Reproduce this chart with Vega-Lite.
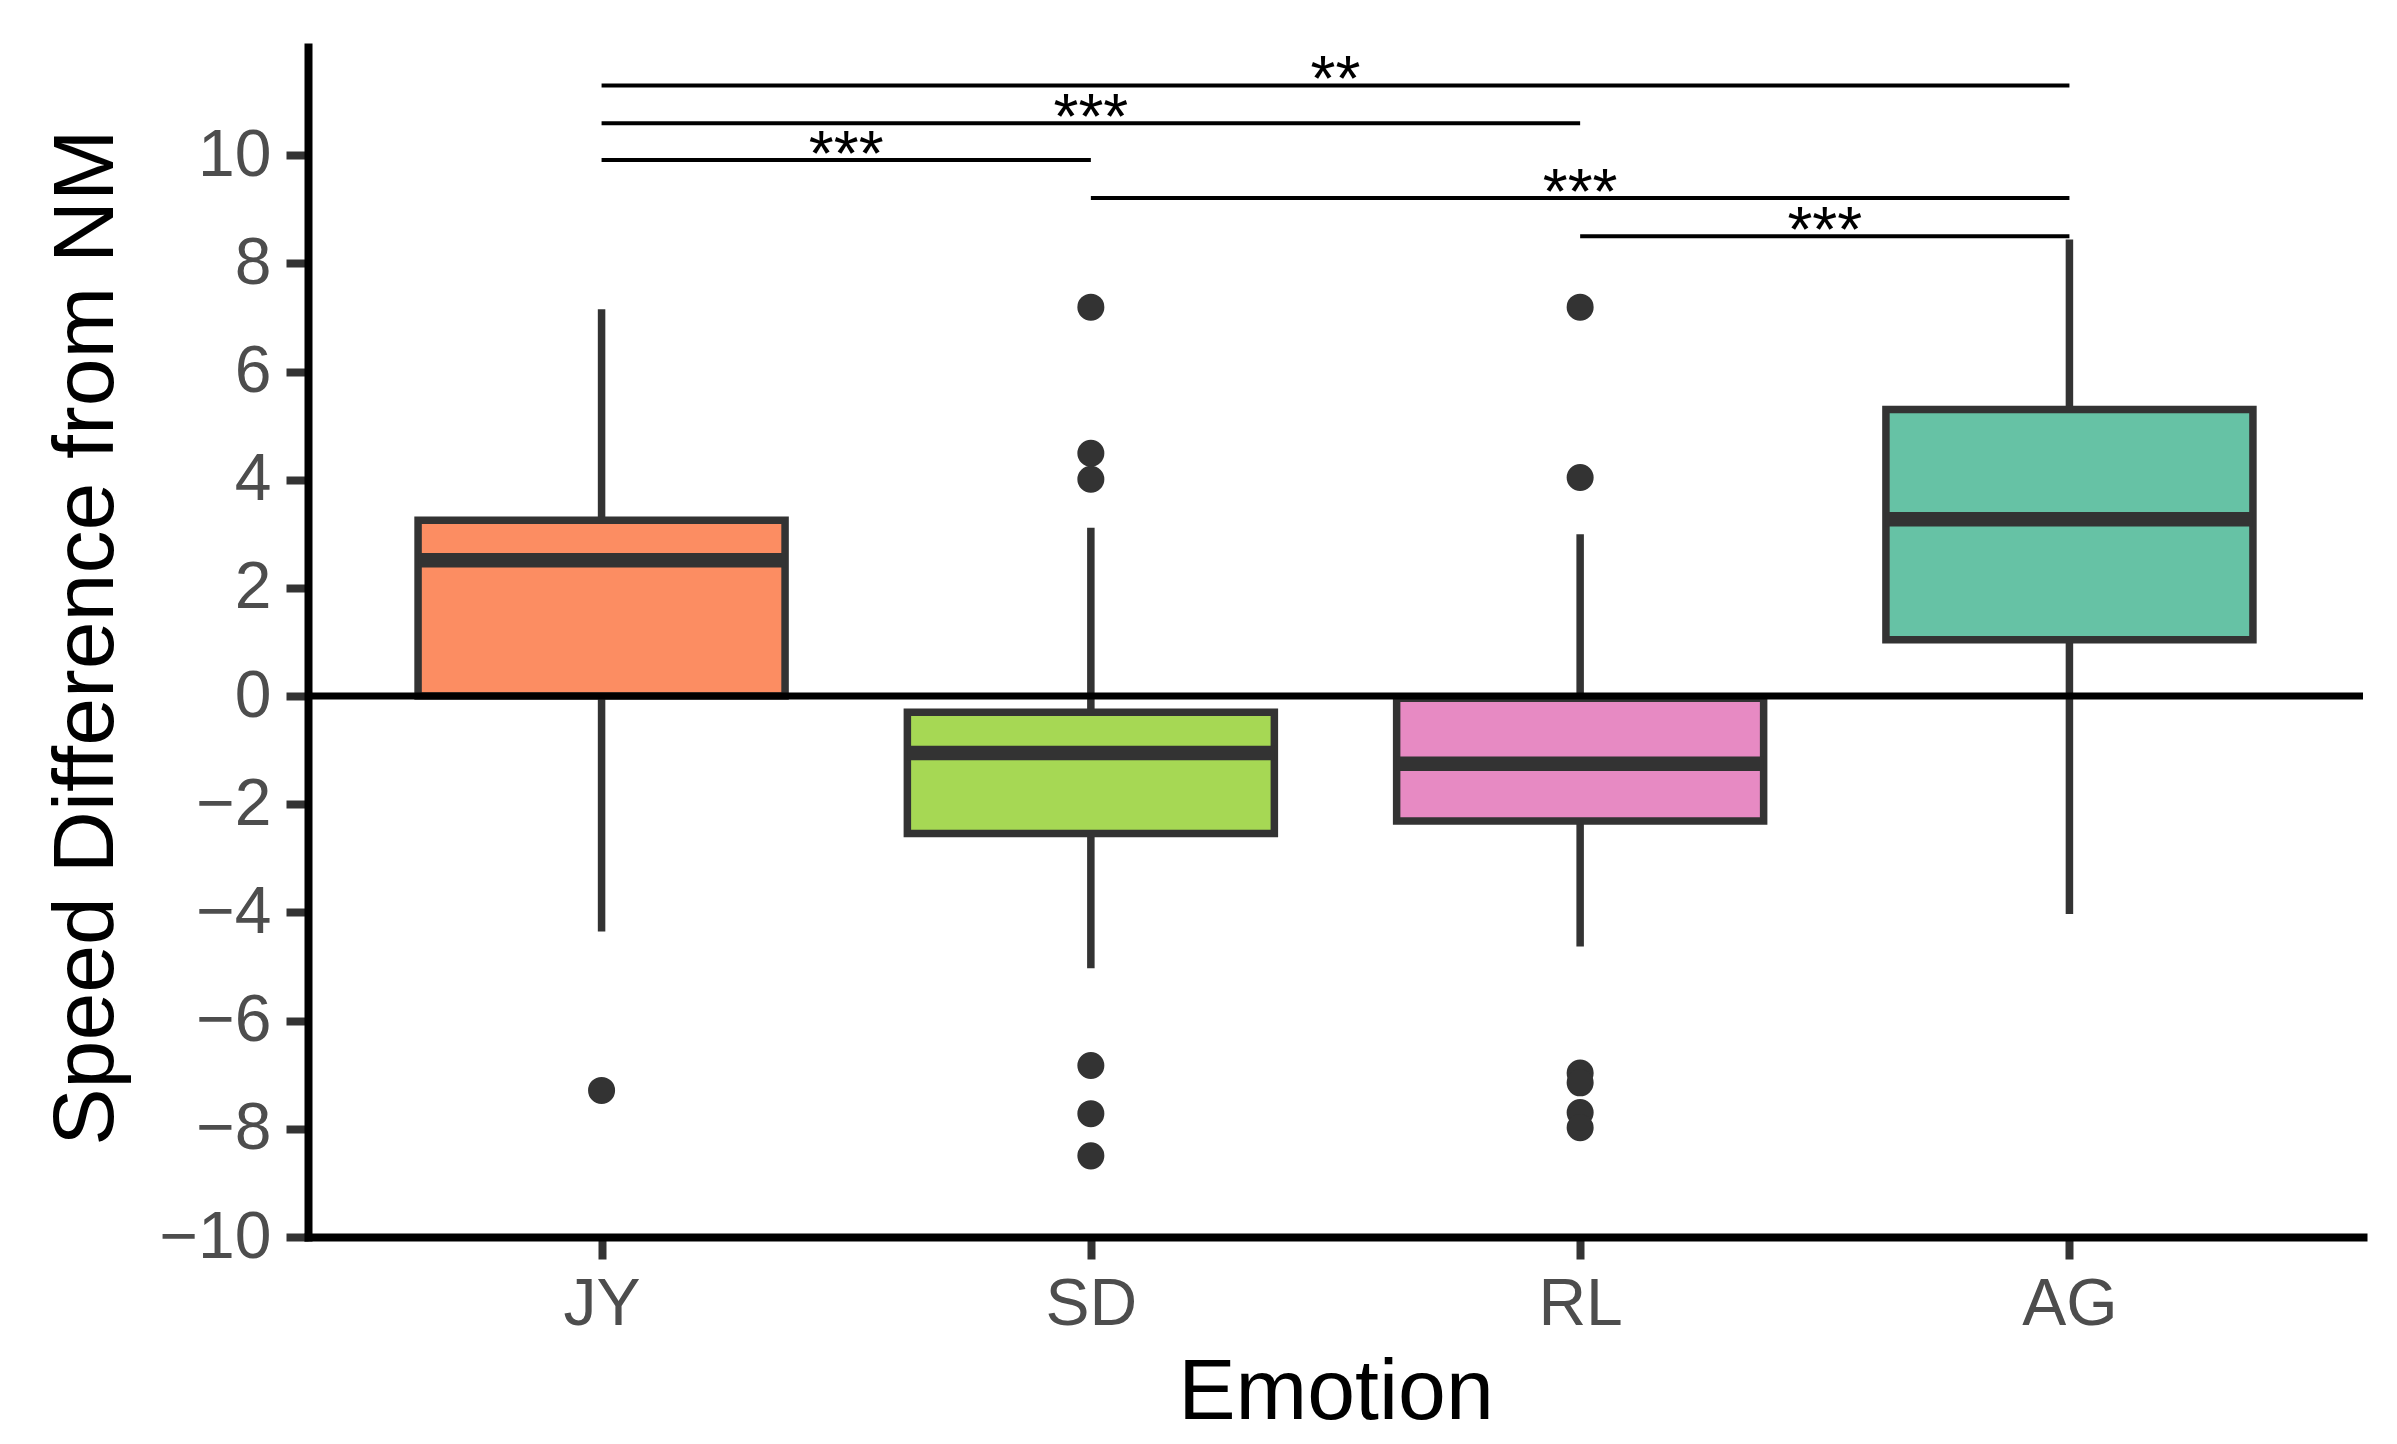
{
  "$schema": "https://vega.github.io/schema/vega-lite/v6.json",
  "width": 2055,
  "height": 1190,
  "autosize": {"type": "none"},
  "padding": {"left": 308, "top": 47, "right": 34, "bottom": 207},
  "background": "white",
  "config": {
    "view": {"stroke": null},
    "font": "Liberation Sans",
    "axisX": {
      "domainColor": "black", "domainWidth": 8, "domainCap": "square",
      "tickColor": "#333333", "tickWidth": 8, "tickSize": 22,
      "labelFont": "Liberation Sans", "labelFontSize": 66, "labelColor": "#4D4D4D",
      "labelPadding": 65, "labelBaseline": "alphabetic", "labelAngle": 0, "labelOverlap": false,
      "titleFont": "Liberation Sans", "titleFontSize": 86, "titleColor": "black", "titleFontWeight": "normal",
      "titleBaseline": "alphabetic", "titleY": 181, "grid": false
    },
    "axisY": {
      "domainColor": "black", "domainWidth": 8, "domainCap": "square",
      "tickColor": "#333333", "tickWidth": 8, "tickSize": 22,
      "labelFont": "Liberation Sans", "labelFontSize": 66, "labelColor": "#4D4D4D",
      "labelPadding": 15, "labelFlush": false, "labelOverlap": false,
      "titleFont": "Liberation Sans", "titleFontSize": 86, "titleColor": "black", "titleFontWeight": "normal",
      "titleAngle": 270, "titleBaseline": "alphabetic", "titleAlign": "center", "titleX": -196, "titleY": 590,
      "grid": false
    }
  },
  "datasets": {
    "boxes": [
      {"emotion": "JY", "lower": -4.35, "q1": 0.0, "median": 2.51, "q3": 3.25, "upper": 7.15},
      {"emotion": "SD", "lower": -5.03, "q1": -2.54, "median": -1.05, "q3": -0.30, "upper": 3.11},
      {"emotion": "RL", "lower": -4.63, "q1": -2.31, "median": -1.25, "q3": -0.04, "upper": 2.99},
      {"emotion": "AG", "lower": -4.03, "q1": 1.04, "median": 3.27, "q3": 5.30, "upper": 8.44}
    ],
    "outliers": [
      {"emotion": "JY", "value": -7.29},
      {"emotion": "SD", "value": 7.19},
      {"emotion": "SD", "value": 4.49},
      {"emotion": "SD", "value": 4.01},
      {"emotion": "SD", "value": -6.83},
      {"emotion": "SD", "value": -7.72},
      {"emotion": "SD", "value": -8.50},
      {"emotion": "RL", "value": 7.19},
      {"emotion": "RL", "value": 4.04},
      {"emotion": "RL", "value": -6.97},
      {"emotion": "RL", "value": -7.15},
      {"emotion": "RL", "value": -7.70},
      {"emotion": "RL", "value": -7.98}
    ],
    "comparisons": [
      {"from": "JY", "to": "SD", "y": 9.91, "label": "***", "mid": 1.5},
      {"from": "JY", "to": "RL", "y": 10.59, "label": "***", "mid": 2.0},
      {"from": "JY", "to": "AG", "y": 11.29, "label": "**", "mid": 2.5},
      {"from": "SD", "to": "AG", "y": 9.21, "label": "***", "mid": 3.0},
      {"from": "RL", "to": "AG", "y": 8.50, "label": "***", "mid": 3.5}
    ]
  },
  "layer": [
    {
      "layer": [
        {
          "data": {"name": "boxes"},
          "mark": {"type": "rule", "color": "#333333", "strokeWidth": 7.5},
          "encoding": {
            "x": {"field": "emotion", "type": "nominal", "title": "Emotion", "scale": {"type": "point", "domain": ["JY", "SD", "RL", "AG"], "padding": 0.6}},
            "y": {"field": "lower", "type": "quantitative", "title": "Speed Difference from NM", "scale": {"domain": [-10, 12], "nice": false, "zero": false}, "axis": {"values": [-10, -8, -6, -4, -2, 0, 2, 4, 6, 8, 10], "format": "d"}},
            "y2": {"field": "upper"}
          }
        },
        {
          "data": {"name": "boxes"},
          "mark": {"type": "bar", "size": 367, "stroke": "#333333", "strokeWidth": 7.5, "opacity": 1},
          "encoding": {
            "x": {"field": "emotion", "type": "nominal", "title": "Emotion", "scale": {"type": "point", "domain": ["JY", "SD", "RL", "AG"], "padding": 0.6}},
            "y": {"field": "q1", "type": "quantitative", "title": "Speed Difference from NM", "scale": {"domain": [-10, 12], "nice": false, "zero": false}, "axis": {"values": [-10, -8, -6, -4, -2, 0, 2, 4, 6, 8, 10], "format": "d"}},
            "y2": {"field": "q3"},
            "color": {"field": "emotion", "type": "nominal", "scale": {"domain": ["JY", "SD", "RL", "AG"], "range": ["#FC8D62", "#A6D854", "#E78AC3", "#66C2A5"]}, "legend": null}
          }
        },
        {
          "data": {"name": "boxes"},
          "mark": {"type": "tick", "size": 367, "thickness": 14.5, "color": "#333333", "opacity": 1},
          "encoding": {
            "x": {"field": "emotion", "type": "nominal", "title": "Emotion", "scale": {"type": "point", "domain": ["JY", "SD", "RL", "AG"], "padding": 0.6}},
            "y": {"field": "median", "type": "quantitative", "title": "Speed Difference from NM", "scale": {"domain": [-10, 12], "nice": false, "zero": false}, "axis": {"values": [-10, -8, -6, -4, -2, 0, 2, 4, 6, 8, 10], "format": "d"}}
          }
        },
        {
          "data": {"name": "outliers"},
          "mark": {"type": "point", "shape": "circle", "filled": true, "size": 730, "color": "#333333", "opacity": 1, "strokeWidth": 0},
          "encoding": {
            "x": {"field": "emotion", "type": "nominal", "title": "Emotion", "scale": {"type": "point", "domain": ["JY", "SD", "RL", "AG"], "padding": 0.6}},
            "y": {"field": "value", "type": "quantitative", "title": "Speed Difference from NM", "scale": {"domain": [-10, 12], "nice": false, "zero": false}, "axis": {"values": [-10, -8, -6, -4, -2, 0, 2, 4, 6, 8, 10], "format": "d"}}
          }
        },
        {
          "data": {"values": [{"ref": 0}]},
          "mark": {"type": "rule", "color": "black", "strokeWidth": 7},
          "encoding": {
            "y": {"field": "ref", "type": "quantitative", "title": "Speed Difference from NM", "scale": {"domain": [-10, 12], "nice": false, "zero": false}, "axis": {"values": [-10, -8, -6, -4, -2, 0, 2, 4, 6, 8, 10], "format": "d"}}
          }
        },
        {
          "data": {"name": "comparisons"},
          "mark": {"type": "rule", "color": "black", "strokeWidth": 4},
          "encoding": {
            "x": {"field": "from", "type": "nominal", "title": "Emotion", "scale": {"type": "point", "domain": ["JY", "SD", "RL", "AG"], "padding": 0.6}},
            "x2": {"field": "to"},
            "y": {"field": "y", "type": "quantitative", "title": "Speed Difference from NM", "scale": {"domain": [-10, 12], "nice": false, "zero": false}, "axis": {"values": [-10, -8, -6, -4, -2, 0, 2, 4, 6, 8, 10], "format": "d"}}
          }
        }
      ]
    },
    {
      "data": {"name": "comparisons"},
      "mark": {"type": "text", "font": "Liberation Sans", "fontSize": 64, "color": "black", "align": "center", "baseline": "alphabetic", "dy": 16},
      "encoding": {
        "x": {"field": "mid", "type": "quantitative", "scale": {"domain": [0.4, 4.6], "nice": false, "zero": false}, "axis": null},
        "y": {"field": "y", "type": "quantitative", "title": "Speed Difference from NM", "scale": {"domain": [-10, 12], "nice": false, "zero": false}, "axis": {"values": [-10, -8, -6, -4, -2, 0, 2, 4, 6, 8, 10], "format": "d"}},
        "text": {"field": "label"}
      }
    }
  ],
  "resolve": {"scale": {"x": "independent"}}
}
